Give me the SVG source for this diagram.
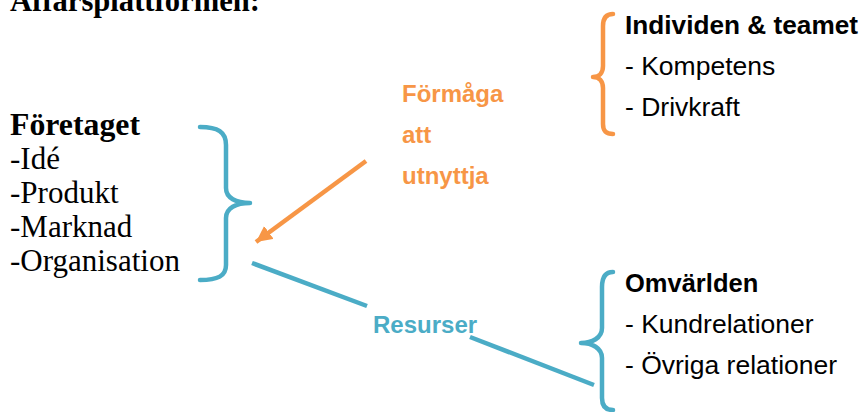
<svg xmlns="http://www.w3.org/2000/svg" width="864" height="412" viewBox="0 0 864 412">
  <style>
    .serif { font-family: "Liberation Serif", "Times New Roman", serif; font-size: 31px; fill: #000; }
    .serifb { font-family: "Liberation Serif", "Times New Roman", serif; font-size: 31px; font-weight: bold; fill: #000; }
    .sans { font-family: "Liberation Sans", Arial, sans-serif; font-size: 26.5px; fill: #000; }
    .sansb { font-family: "Liberation Sans", Arial, sans-serif; font-size: 25.5px; font-weight: bold; fill: #000; }
    .lbl-o { font-family: "Liberation Sans", Arial, sans-serif; font-size: 24px; font-weight: bold; fill: #F79646; }
    .lbl-t { font-family: "Liberation Sans", Arial, sans-serif; font-size: 24px; font-weight: bold; fill: #4BACC6; }
    .brace { fill: none; stroke-width: 4.5; stroke-linecap: round; stroke-linejoin: round; }
    .teal { stroke: #4BACC6; }
    .orange { stroke: #F79646; }
  </style>
  <defs>
    <marker id="head" markerUnits="userSpaceOnUse" markerWidth="18" markerHeight="18" refX="16" refY="8" orient="auto">
      <path d="M0,0 L16,8 L0,16 Z" fill="#F79646"/>
    </marker>
  </defs>
  <rect width="864" height="412" fill="#fff"/>

  <!-- heading, partly above the top edge -->
  <text class="serifb" x="10" y="11" textLength="250" lengthAdjust="spacingAndGlyphs">Affärsplattformen:</text>

  <g id="foretaget">
    <text class="serifb" x="10" y="135" textLength="130" lengthAdjust="spacingAndGlyphs">Företaget</text>
    <text class="serif" x="10" y="169">-Idé</text>
    <text class="serif" x="10" y="203">-Produkt</text>
    <text class="serif" x="10" y="237">-Marknad</text>
    <text class="serif" x="10" y="271">-Organisation</text>
    <path class="brace teal" d="M200,127 C218,127 226,132 226,145 L226,188 C226,198 236,203 250,203 C236,203 226,208 226,218 L226,265 C226,276 218,280 200,280"/>
  </g>

  <g id="individen">
    <path class="brace orange" d="M613,14 C606,14 603,18 603,26 L603,66 C603,73 599,77 593,77 C599,77 603,81 603,88 L603,124 C603,131 606,134 613,134"/>
    <text class="sansb" x="625" y="34" textLength="233" lengthAdjust="spacingAndGlyphs">Individen &amp; teamet</text>
    <text class="sans" x="625" y="75">- Kompetens</text>
    <text class="sans" x="625" y="116">- Drivkraft</text>
  </g>

  <g id="omvarlden">
    <path class="brace teal" d="M613,272 C606,272 602,277 602,287 L602,328 C602,338 592,343 581,343 C592,343 602,348 602,358 L602,398 C602,406 606,410 613,410"/>
    <text class="sansb" x="625" y="292">Omvärlden</text>
    <text class="sans" x="625" y="333">- Kundrelationer</text>
    <text class="sans" x="625" y="374">- Övriga relationer</text>
  </g>

  <g id="connectors">
    <line x1="366" y1="161" x2="256" y2="242" stroke="#F79646" stroke-width="4.5" marker-end="url(#head)"/>
    <line x1="252" y1="263" x2="367" y2="306" stroke="#4BACC6" stroke-width="4.5"/>
    <line x1="470" y1="337" x2="594" y2="385" stroke="#4BACC6" stroke-width="4.5"/>
  </g>

  <g id="labels">
    <text class="lbl-o" x="402" y="102">Förmåga</text>
    <text class="lbl-o" x="402" y="143">att</text>
    <text class="lbl-o" x="402" y="184">utnyttja</text>
    <text class="lbl-t" x="373" y="333">Resurser</text>
  </g>
</svg>
